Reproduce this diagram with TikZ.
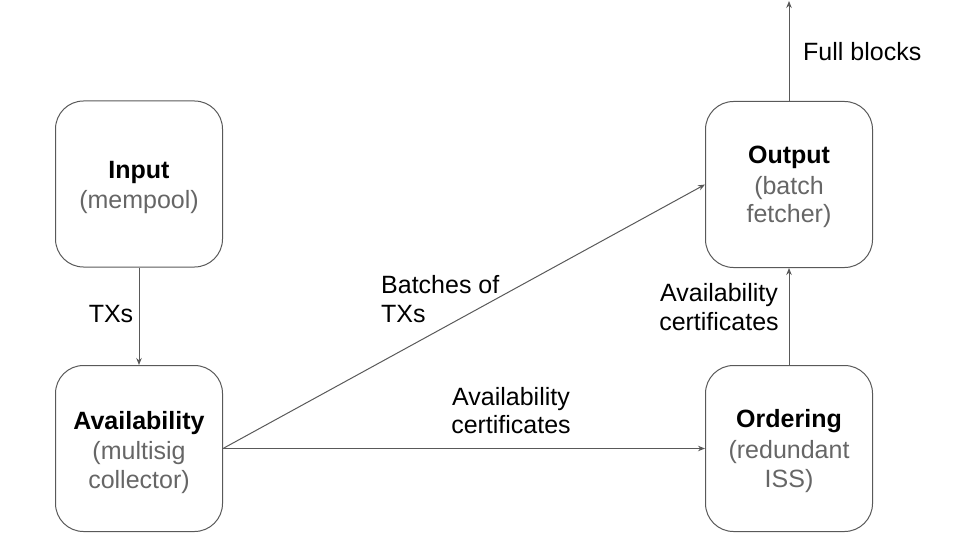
\documentclass[tikz,border=0pt]{standalone}
\usepackage{fontspec}
\setmainfont{Liberation Sans}
\usetikzlibrary{arrows.meta}
\definecolor{linegray}{HTML}{595959}
\definecolor{subgray}{HTML}{666666}
\begin{document}
\begin{tikzpicture}[x=1pt,y=-1pt,
  box/.style={draw=linegray, line width=1pt, rounded corners=28pt, minimum width=167pt, minimum height=166pt, inner sep=0pt},
  title/.style={anchor=base, font=\fontsize{25}{29}\selectfont\bfseries, text=black, inner sep=0pt},
  sub/.style={anchor=base, font=\fontsize{25}{29}\selectfont, text=subgray, inner sep=0pt},
  lbl/.style={anchor=base, font=\fontsize{25}{29}\selectfont, text=black, inner sep=0pt},
  conn/.style={draw=linegray, line width=1pt, -{Stealth[length=7pt,width=5.5pt]}}]
\useasboundingbox (0,0) rectangle (960,540);
\node[box] (input) at (139,184) {};
\node[box] (avail) at (139,448.5) {};
\node[box] (output) at (789,184.5) {};
\node[box] (order) at (789,448.5) {};

\node[title] (inputT) at (139,178.3) {Input};
\node[sub] (inputS) at (139,208) {(mempool)};
\node[title] (availT) at (139,429) {Availability};
\node[sub] (availS1) at (139,459.5) {(multisig};
\node[sub] (availS2) at (139,488) {collector)};
\node[title] (outT) at (789,163.5) {Output};
\node[sub] (outS1) at (789,194) {(batch};
\node[sub] (outS2) at (789,222.5) {fetcher)};
\node[title] (ordT) at (789,427.5) {Ordering};
\node[sub] (ordS1) at (789,458.5) {(redundant};
\node[sub] (ordS2) at (789,487) {ISS)};

\coordinate (top) at (789,1);
\draw[conn] (input.south) -- (avail.north);
\draw[conn] (avail.east) -- (order.west);
\draw[conn] (avail.east) -- (output.west);
\draw[conn] (order.north) -- (output.south);
\draw[conn] (output.north) -- (top);

\node[lbl] (lTX) at (111,322.3) {TXs};
\node[lbl, anchor=base west] (lB1) at (381,293) {Batches of};
\node[lbl, anchor=base west] (lB2) at (381,322.5) {TXs};
\node[lbl] (lA1) at (511,405) {Availability};
\node[lbl] (lA2) at (511,433.3) {certificates};
\node[lbl] (lR1) at (719,301.7) {Availability};
\node[lbl] (lR2) at (719,330) {certificates};
\node[lbl, anchor=base west] (lF) at (803,60.7) {Full blocks};
\end{tikzpicture}
\end{document}
